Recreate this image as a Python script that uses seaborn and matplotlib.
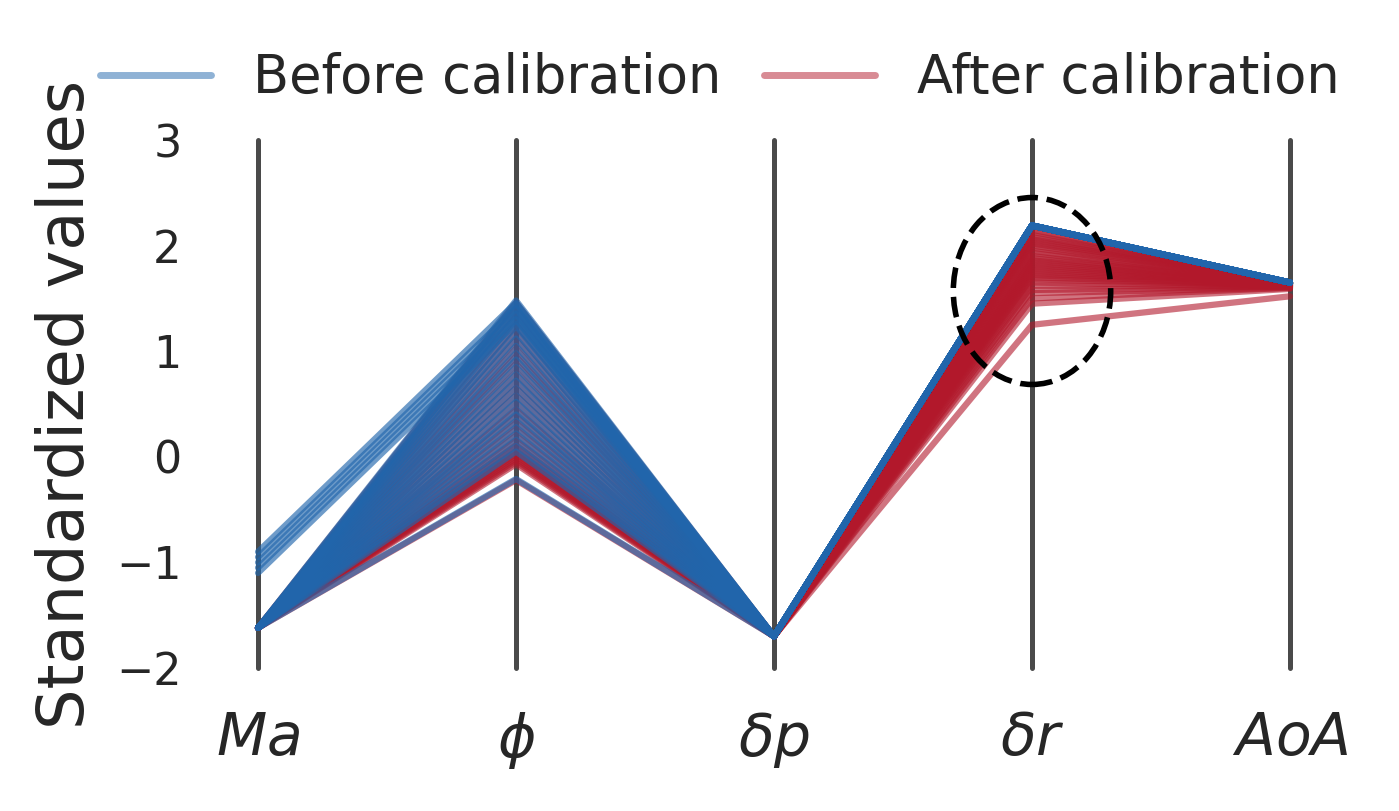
import pandas as pd
import matplotlib.pyplot as plt
import seaborn as sns
from matplotlib.patches import Ellipse
from matplotlib.lines import Line2D

#parameters on the x axis
columns = ['Ma', 'phi', 'dp', 'dr', 'AoA']
tick_labels = ['$Ma$', r'$\phi$', r'$\delta p$', r'$\delta r$', '$AoA$']
yticks = [-2, -1, 0, 1, 2, 3]

#standardized values before calibration (one entry per sample)
before_ma = [-0.90, -0.95, -1.00, -1.05, -1.10,
             -1.62, -1.62, -1.62, -1.62, -1.62, -1.62, -1.62, -1.62, -1.62, -1.62,
             -1.62, -1.62, -1.62, -1.62, -1.62, -1.62, -1.62, -1.62, -1.62, -1.62,
             -1.62, -1.62, -1.62, -1.62, -1.62, -1.62]
before_phi = [1.46, 1.41, 1.36, 1.31, 1.26,
              1.48, 1.45, 1.40, 1.35, 1.30, 1.24, 1.18, 1.12, 1.05, 0.98,
              0.92, 0.85, 0.78, 0.72, 0.65, 0.58, 0.52, 0.45, 0.40, 0.34,
              0.28, 0.22, 0.16, 0.10, 0.05, -0.21]
before_dp = [-1.70, -1.70, -1.70, -1.70, -1.70, -1.70, -1.70, -1.70, -1.70, -1.70,
             -1.70, -1.70, -1.70, -1.70, -1.70, -1.70, -1.70, -1.70, -1.70, -1.70,
             -1.70, -1.70, -1.70, -1.70, -1.70, -1.70, -1.70, -1.70, -1.70, -1.70,
             -1.70]
before_dr = [2.19, 2.19, 2.19, 2.19, 2.19, 2.19, 2.19, 2.19, 2.19, 2.19,
             2.19, 2.19, 2.19, 2.19, 2.19, 2.19, 2.19, 2.19, 2.19, 2.19,
             2.19, 2.19, 2.19, 2.19, 2.19, 2.19, 2.19, 2.19, 2.19, 2.19,
             2.19]
before_aoa = [1.65, 1.65, 1.65, 1.65, 1.65, 1.65, 1.65, 1.65, 1.65, 1.65,
              1.65, 1.65, 1.65, 1.65, 1.65, 1.65, 1.65, 1.65, 1.65, 1.65,
              1.65, 1.65, 1.65, 1.65, 1.65, 1.65, 1.65, 1.65, 1.65, 1.65,
              1.65]

#standardized values after calibration
after_ma = [-1.62, -1.62, -1.62, -1.62, -1.62, -1.62, -1.62, -1.62, -1.62, -1.62,
            -1.62, -1.62, -1.62, -1.62, -1.62, -1.62, -1.62, -1.62, -1.62, -1.62,
            -1.62, -1.62, -1.62, -1.62, -1.62, -1.62, -1.62, -1.62, -1.62, -1.62]
after_phi = [1.46, 1.40, 1.33, 1.25, 1.18, 1.10, 1.02, 0.95, 0.88, 0.80,
             0.72, 0.65, 0.58, 0.50, 0.44, 0.38, 0.32, 0.26, 0.20, 0.15,
             0.11, 0.08, 0.05, 0.03, 0.01, -0.01, -0.03, -0.05, -0.07, -0.22]
after_dp = [-1.70, -1.70, -1.70, -1.70, -1.70, -1.70, -1.70, -1.70, -1.70, -1.70,
            -1.70, -1.70, -1.70, -1.70, -1.70, -1.70, -1.70, -1.70, -1.70, -1.70,
            -1.70, -1.70, -1.70, -1.70, -1.70, -1.70, -1.70, -1.70, -1.70, -1.70]
after_dr = [2.15, 2.13, 2.10, 2.08, 2.06, 2.04, 2.02, 2.00, 1.98, 1.95,
            1.93, 1.90, 1.88, 1.86, 1.84, 1.82, 1.80, 1.78, 1.76, 1.74,
            1.72, 1.70, 1.68, 1.65, 1.62, 1.58, 1.55, 1.50, 1.45, 1.25]
after_aoa = [1.65, 1.65, 1.65, 1.65, 1.65, 1.65, 1.65, 1.65, 1.64, 1.64,
             1.64, 1.64, 1.64, 1.64, 1.63, 1.63, 1.63, 1.63, 1.63, 1.62,
             1.62, 1.62, 1.62, 1.61, 1.61, 1.61, 1.60, 1.60, 1.59, 1.52]

blue = '#2166ac'
red = '#b2182b'


def to_long(ma, phi, dp, dr, aoa):
    wide = pd.DataFrame({'Ma': ma, 'phi': phi, 'dp': dp, 'dr': dr, 'AoA': aoa})
    wide['id'] = range(len(wide))
    long = wide.melt(id_vars='id', var_name='param', value_name='value')
    long['pos'] = long['param'].map({c: i for i, c in enumerate(columns)})
    return long


before = to_long(before_ma, before_phi, before_dp, before_dr, before_aoa)
after = to_long(after_ma, after_phi, after_dp, after_dr, after_aoa)

sns.set_style('white')
plt.rcParams['font.family'] = ['DejaVu Sans']

fig = plt.figure(figsize=(13.99, 8.11), dpi=100)
ax = fig.add_axes([258 / 1399, 1 - 668 / 811, (1290 - 258) / 1399, (668 - 140) / 811])

#vertical axis for each parameter
for i in range(len(columns)):
    ax.axvline(i, color='#4a4a4a', lw=3.6, zorder=1)

sns.lineplot(data=after, x='pos', y='value', units='id', estimator=None,
             color=red, alpha=0.6, lw=4.5, ax=ax, zorder=2)
sns.lineplot(data=before, x='pos', y='value', units='id', estimator=None,
             color=blue, alpha=0.65, lw=4.5, ax=ax, zorder=3)
#no clipping, so the outer axes are not cut in half
for ln in ax.lines:
    ln.set_clip_on(False)

#highlight the spread of delta r
ax.add_patch(Ellipse((3.0, 1.57), 0.61, 1.77, fill=False, ls='--', lw=4,
                     ec='black', zorder=4))

ax.set_xlim(0, 4)
ax.set_ylim(-2, 3)
ax.set_xticks(range(len(columns)), tick_labels, fontsize=42)
ax.set_yticks(yticks)
ax.set_yticklabels([f'{t}'.replace('-', '\u2212') for t in yticks], fontsize=32)
ax.tick_params(axis='x', length=0, pad=30)
ax.tick_params(axis='y', length=0, pad=55)
ax.set_xlabel('')
ax.set_ylabel('Standardized values', fontsize=46, labelpad=14)
for s in ax.spines.values():
    s.set_visible(False)

handles = [Line2D([], [], color=blue, alpha=0.5, lw=5, solid_capstyle='round'),
           Line2D([], [], color=red, alpha=0.5, lw=5, solid_capstyle='round')]
fig.legend(handles, ['Before calibration', 'After calibration'], loc='center',
           bbox_to_anchor=(720 / 1399, 1 - 78 / 811), ncol=2, frameon=False,
           fontsize=38, handlelength=2.1, handletextpad=0.8, columnspacing=0.8)

plt.savefig('out.png', dpi=100)
plt.close()
